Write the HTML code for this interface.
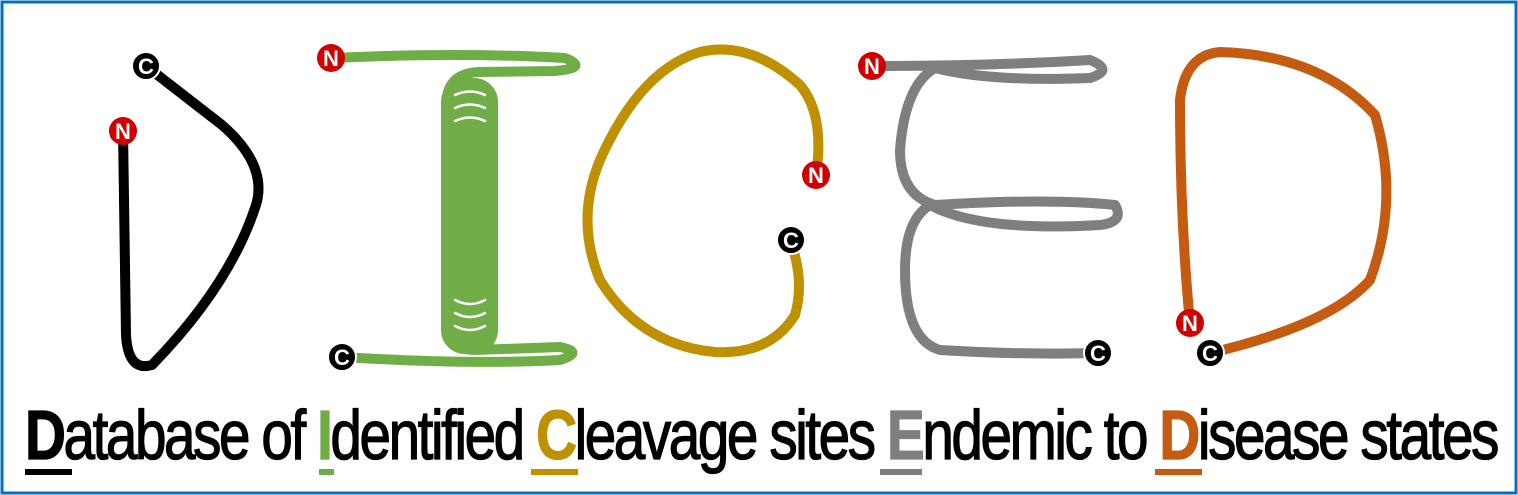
<!DOCTYPE html>
<html><head><meta charset="utf-8"><style>
html,body{margin:0;padding:0;background:#fff}
svg{display:block}
</style></head><body>
<svg width="1518" height="495" viewBox="0 0 1518 495" xmlns="http://www.w3.org/2000/svg">
<rect x="2" y="2" width="1514" height="491" fill="#fff" stroke="#0070c0" stroke-width="3"/>
<g fill="none" stroke-linecap="round" stroke-linejoin="round" stroke-width="10">
<path stroke="#000" d="M123,131 L126,335 Q128,372 152,365 Q230,285 256,205 Q268,165 222,125 L146,66"/>
<path stroke="#70ad47" d="M331,58 Q460,52 565,58 Q590,68 555,71 L478,72 Q448,74 447,100"/>
<rect x="443" y="80" width="53" height="272" rx="22" fill="#70ad47" stroke="#70ad47" stroke-width="4"/>
<path stroke="#70ad47" d="M447,320 Q445,350 475,350 L560,347 Q585,352 560,360 Q470,365 342,357"/>
<path stroke="#bf9000" d="M790,240 Q805,280 795,315 Q770,355 715,352 Q640,345 600,280 Q575,220 600,160 Q640,70 700,52 Q750,40 800,85 Q825,115 816,175"/>
<path stroke="#7f7f7f" d="M872,66 Q990,66 1090,60 Q1115,70 1090,78 Q990,82 935,68 Q905,85 900,150 Q900,195 935,205 Q1050,198 1115,205 Q1125,222 1100,225 Q980,232 930,205 Q905,220 905,270 Q905,340 940,350 Q1020,355 1098,353"/>
<path stroke="#c55a11" d="M1190,323 Q1180,220 1180,100 Q1185,55 1220,52 Q1320,55 1375,115 Q1400,200 1370,280 Q1330,325 1210,353"/>
</g>
<g fill="none" stroke="#fff" stroke-width="2.5" stroke-linecap="round">
<path d="M455,95 Q470,88 485,95"/><path d="M455,108 Q470,101 485,108"/><path d="M455,121 Q470,114 485,121"/>
<path d="M455,300 Q470,308 485,300"/><path d="M455,313 Q470,321 485,313"/><path d="M455,326 Q470,334 485,326"/>
</g>
<g font-family="Liberation Sans, sans-serif" font-weight="bold" font-size="22" text-anchor="middle">
<g><circle cx="123" cy="131" r="14" fill="#d00000"/><text x="123" y="139" fill="#fff">N</text></g>
<g><circle cx="146" cy="66" r="14" fill="#000" stroke="#fff" stroke-width="2"/><text x="146" y="74" fill="#fff">C</text></g>
<g><circle cx="331" cy="58" r="14" fill="#d00000"/><text x="331" y="66" fill="#fff">N</text></g>
<g><circle cx="342" cy="357" r="14" fill="#000" stroke="#fff" stroke-width="2"/><text x="342" y="365" fill="#fff">C</text></g>
<g><circle cx="816" cy="175" r="14" fill="#d00000"/><text x="816" y="183" fill="#fff">N</text></g>
<g><circle cx="791" cy="240" r="14" fill="#000" stroke="#fff" stroke-width="2"/><text x="791" y="248" fill="#fff">C</text></g>
<g><circle cx="872" cy="66" r="14" fill="#d00000"/><text x="872" y="74" fill="#fff">N</text></g>
<g><circle cx="1098" cy="353" r="14" fill="#000" stroke="#fff" stroke-width="2"/><text x="1098" y="361" fill="#fff">C</text></g>
<g><circle cx="1190" cy="323" r="14" fill="#d00000"/><text x="1190" y="331" fill="#fff">N</text></g>
<g><circle cx="1210" cy="353" r="14" fill="#000" stroke="#fff" stroke-width="2"/><text x="1210" y="361" fill="#fff">C</text></g>
</g>
<text x="25" y="459" font-family="Liberation Sans, sans-serif" font-size="70" textLength="1472" lengthAdjust="spacingAndGlyphs" fill="#000" stroke="#000" stroke-width="1.3" letter-spacing="-3"><tspan font-weight="bold">D</tspan>atabase of <tspan font-weight="bold" fill="#70ad47" stroke="#70ad47">I</tspan>dentified <tspan font-weight="bold" fill="#bf9000" stroke="#bf9000">C</tspan>leavage sites <tspan font-weight="bold" fill="#7f7f7f" stroke="#7f7f7f">E</tspan>ndemic to <tspan font-weight="bold" fill="#c55a11" stroke="#c55a11">D</tspan>isease states</text>
<rect x="25" y="469" width="47" height="6" fill="#000"/>
<rect x="319" y="469" width="15" height="6" fill="#70ad47"/>
<rect x="531" y="469" width="47" height="6" fill="#bf9000"/>
<rect x="880" y="469" width="42" height="6" fill="#7f7f7f"/>
<rect x="1155" y="469" width="47" height="6" fill="#c55a11"/>
</svg>
</body></html>
